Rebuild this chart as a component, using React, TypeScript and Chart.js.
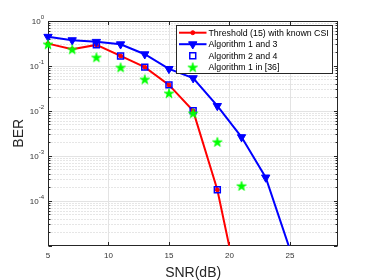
import React, { useEffect, useRef } from 'react';
import { Chart, registerables } from 'chart.js';
import { drawPoint } from 'chart.js/helpers';

Chart.register(...registerables);

// ---------- data ----------
const snr = [5, 7, 9, 11, 13, 15, 17, 19, 21, 23, 25];
const thresholdBER = [0.31, 0.232, 0.29, 0.165, 0.093, 0.0375, 0.00995, 1.76e-4, 5e-7, null, null];
const alg13BER = [0.44, 0.37, 0.34, 0.3, 0.18, 0.085, 0.053, 0.0128, 0.0026, 3.3e-4, 8.3e-6];
const alg24BER = [null, null, 0.29, 0.165, 0.093, 0.0375, 0.00995, 1.76e-4, null, null, null];
const alg1Ref36BER = [0.3, 0.232, 0.154, 0.092, 0.05, 0.0245, 0.0088, 0.00204, 2.15e-4, null, null];

const seriesLabels = [
  'Threshold (15) with known CSI',
  'Algorithm 1 and 3',
  'Algorithm 2 and 4',
  'Algorithm 1 in [36]',
];
const xTicks = [5, 10, 15, 20, 25];
const yDecadeExps = [0, -1, -2, -3, -4];
const xLabel = 'SNR(dB)';
const yLabel = 'BER';

const FONT = '"Liberation Sans", Arial, Helvetica, sans-serif';
const AXC = '#262626';

function toPoints(arr: (number | null)[]) {
  return snr
    .map((x, i) => ({ x, y: arr[i] }))
    .filter((p) => p.y !== null) as { x: number; y: number }[];
}

function makeStar(R: number, color: string) {
  const s = Math.ceil(2 * R + 2);
  const c = document.createElement('canvas');
  c.width = s;
  c.height = s;
  const g = c.getContext('2d')!;
  const cx = s / 2;
  const cy = s / 2 + R * 0.1;
  const r = R * 0.382;
  g.beginPath();
  for (let i = 0; i < 10; i++) {
    const ang = -Math.PI / 2 + (i * Math.PI) / 5;
    const rr = i % 2 ? r : R;
    g.lineTo(cx + rr * Math.cos(ang), cy + rr * Math.sin(ang));
  }
  g.closePath();
  g.fillStyle = color;
  g.fill();
  g.strokeStyle = color;
  g.lineWidth = 0.8;
  g.stroke();
  return c;
}

const axesPlugin = {
  id: 'matlabAxes',
  beforeDatasetsDraw(chart: any) {
    const { ctx, chartArea: a, scales } = chart;
    const xs = scales.x;
    const ys = scales.y;
    ctx.save();
    const L = Math.round(a.left) + 0.5;
    const R = Math.round(a.right) - 0.5;
    const T = Math.round(a.top) + 0.5;
    const B = Math.round(a.bottom) - 0.5;

    // minor horizontal grid (dotted)
    ctx.lineWidth = 1;
    ctx.strokeStyle = '#cdcdcd';
    ctx.setLineDash([1, 2]);
    for (let d = -5; d < 0; d++) {
      for (let k = 2; k <= 9; k++) {
        const yy = Math.round(ys.getPixelForValue(k * Math.pow(10, d))) + 0.5;
        ctx.beginPath();
        ctx.moveTo(L, yy);
        ctx.lineTo(R, yy);
        ctx.stroke();
      }
    }
    ctx.setLineDash([]);
    // major grid
    ctx.strokeStyle = '#e3e3e3';
    for (const e of yDecadeExps) {
      if (e === 0) continue;
      const yy = Math.round(ys.getPixelForValue(Math.pow(10, e))) + 0.5;
      ctx.beginPath();
      ctx.moveTo(L, yy);
      ctx.lineTo(R, yy);
      ctx.stroke();
    }
    for (const t of xTicks) {
      if (t === 5) continue;
      const xx = Math.round(xs.getPixelForValue(t)) + 0.5;
      ctx.beginPath();
      ctx.moveTo(xx, T);
      ctx.lineTo(xx, B);
      ctx.stroke();
    }

    // axes box
    ctx.strokeStyle = AXC;
    ctx.lineWidth = 1;
    ctx.strokeRect(L, T, R - L, B - T);

    // ticks
    ctx.beginPath();
    for (let d = -5; d <= 0; d++) {
      const yy = Math.round(ys.getPixelForValue(Math.pow(10, d))) + 0.5;
      ctx.moveTo(L, yy);
      ctx.lineTo(L + 3.5, yy);
      ctx.moveTo(R, yy);
      ctx.lineTo(R - 3.5, yy);
      if (d < 0) {
        for (let k = 2; k <= 9; k++) {
          const ym = Math.round(ys.getPixelForValue(k * Math.pow(10, d))) + 0.5;
          ctx.moveTo(L, ym);
          ctx.lineTo(L + 2, ym);
          ctx.moveTo(R, ym);
          ctx.lineTo(R - 2, ym);
        }
      }
    }
    for (const t of xTicks) {
      const xx = Math.round(xs.getPixelForValue(t)) + 0.5;
      ctx.moveTo(xx, B);
      ctx.lineTo(xx, B - 3.5);
      ctx.moveTo(xx, T);
      ctx.lineTo(xx, T + 3.5);
    }
    ctx.stroke();

    // tick labels
    ctx.fillStyle = '#333333';
    ctx.textBaseline = 'middle';
    for (const e of yDecadeExps) {
      const yy = ys.getPixelForValue(Math.pow(10, e));
      ctx.font = `8px ${FONT}`;
      const w10 = ctx.measureText('10').width;
      ctx.font = `6px ${FONT}`;
      const sup = String(e);
      const ws = ctx.measureText(sup).width;
      const x0 = a.left - 4 - w10 - ws;
      ctx.textAlign = 'left';
      ctx.font = `8px ${FONT}`;
      ctx.fillText('10', x0, yy + 1);
      ctx.font = `6px ${FONT}`;
      ctx.fillText(sup, x0 + w10, yy - 3);
    }
    ctx.font = `8px ${FONT}`;
    ctx.textAlign = 'center';
    for (const t of xTicks) {
      ctx.fillText(String(t), xs.getPixelForValue(t), a.bottom + 9.5);
    }

    // axis titles
    ctx.fillStyle = AXC;
    ctx.font = `14px ${FONT}`;
    ctx.textAlign = 'center';
    ctx.textBaseline = 'alphabetic';
    ctx.fillText(xLabel, (a.left + a.right) / 2, 277);
    ctx.save();
    ctx.translate(23.3, (a.top + a.bottom) / 2);
    ctx.rotate(-Math.PI / 2);
    ctx.fillText(yLabel, 0, 0);
    ctx.restore();

    ctx.restore();
  },
  afterDatasetsDraw(chart: any) {
    const { ctx } = chart;
    ctx.save();
    const bx = 176.5;
    const by = 25.5;
    const bw = 156;
    const bh = 48;
    ctx.fillStyle = '#ffffff';
    ctx.fillRect(bx, by, bw, bh);
    ctx.strokeStyle = AXC;
    ctx.lineWidth = 1;
    ctx.strokeRect(bx, by, bw, bh);

    const rowY = [32.7, 44.2, 55.7, 67.2];
    const lx0 = 179;
    const lx1 = 206.5;
    const mx = (lx0 + lx1) / 2;
    chart.data.datasets.forEach((ds: any, i: number) => {
      const yy = rowY[i];
      if (ds.showLine !== false) {
        ctx.strokeStyle = ds.borderColor;
        ctx.lineWidth = ds.borderWidth;
        ctx.beginPath();
        ctx.moveTo(lx0, yy);
        ctx.lineTo(lx1, yy);
        ctx.stroke();
      }
      ctx.fillStyle = ds.pointBackgroundColor;
      ctx.strokeStyle = ds.pointBorderColor;
      ctx.lineWidth = ds.pointBorderWidth;
      drawPoint(
        ctx,
        {
          pointStyle: ds.pointStyle,
          radius: ds.pointRadius,
          rotation: ds.pointRotation || 0,
          borderWidth: ds.pointBorderWidth,
        } as any,
        mx,
        yy
      );
      ctx.fillStyle = '#000000';
      ctx.font = `8.8px ${FONT}`;
      ctx.textAlign = 'left';
      ctx.textBaseline = 'middle';
      ctx.fillText(ds.label, 208.5, yy + 0.5);
    });
    ctx.restore();
  },
};

export default function App() {
  const ref = useRef<HTMLCanvasElement | null>(null);

  useEffect(() => {
    if (!ref.current) return;
    const star = makeStar(5, '#00ff00');
    const clip = { left: 12, top: 12, right: 12, bottom: 0 };
    const chart = new Chart(ref.current, {
      type: 'line',
      data: {
        datasets: [
          {
            label: seriesLabels[0],
            data: toPoints(thresholdBER),
            borderColor: '#ff0000',
            borderWidth: 2,
            pointStyle: 'circle',
            pointRadius: 2,
            pointBackgroundColor: '#ff0000',
            pointBorderColor: '#ff0000',
            pointBorderWidth: 1,
            order: 4,
            clip,
          } as any,
          {
            label: seriesLabels[1],
            data: toPoints(alg13BER),
            borderColor: '#0000ff',
            borderWidth: 2,
            pointStyle: 'triangle',
            pointRotation: 180,
            pointRadius: 4.8,
            pointBackgroundColor: '#0000ff',
            pointBorderColor: '#0000ff',
            pointBorderWidth: 1,
            order: 3,
            clip,
          },
          {
            label: seriesLabels[2],
            data: toPoints(alg24BER),
            showLine: false,
            borderColor: '#0000ff',
            borderWidth: 0,
            pointStyle: 'rect',
            pointRadius: 4.2,
            pointBackgroundColor: 'rgba(0,0,0,0)',
            pointBorderColor: '#0000ff',
            pointBorderWidth: 1.5,
            order: 2,
            clip,
          },
          {
            label: seriesLabels[3],
            data: toPoints(alg1Ref36BER),
            showLine: false,
            borderColor: '#00ff00',
            borderWidth: 0,
            pointStyle: star,
            pointRadius: 5,
            pointBackgroundColor: '#00ff00',
            pointBorderColor: '#00ff00',
            pointBorderWidth: 0,
            order: 1,
            clip,
          },
        ],
      },
      options: {
        responsive: false,
        devicePixelRatio: 1,
        animation: false,
        layout: { padding: { left: 48, top: 20.7, right: 35.7, bottom: 34.2 } },
        plugins: { legend: { display: false }, tooltip: { enabled: false } },
        scales: {
          x: { type: 'linear', min: 5, max: 29, display: false },
          y: { type: 'logarithmic', min: 1e-5, max: 1, display: false },
        },
      },
      plugins: [axesPlugin],
    });
    return () => chart.destroy();
  }, []);

  return (
    <div style={{ position: 'absolute', left: 0, top: 0, width: 374, height: 280, background: '#fff' }}>
      <canvas ref={ref} width={374} height={280} style={{ display: 'block', width: 374, height: 280 }} />
    </div>
  );
}
